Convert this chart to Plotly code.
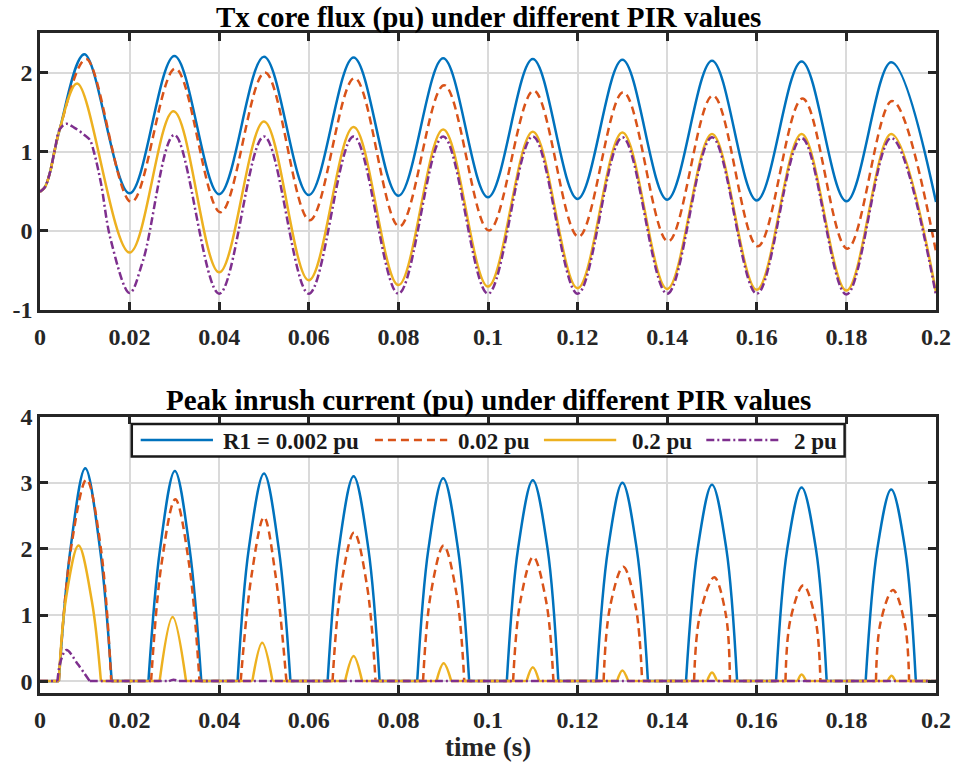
import plotly.graph_objects as go

# ---------------- Flux data (pu) : sampled extremes / key points ----------------
blue_flux_t = [0, 0.0011, 0.0022, 0.0033, 0.0044, 0.0099, 0.020, 0.030, 0.040, 0.050, 0.060,
               0.070, 0.080, 0.090, 0.100, 0.110, 0.120, 0.130, 0.140, 0.150, 0.160, 0.170,
               0.180, 0.190, 0.200]
blue_flux_v = [0.49, 0.55, 0.73, 1.02, 1.28, 2.23, 0.47, 2.21, 0.46, 2.20, 0.45, 2.19, 0.44,
               2.18, 0.42, 2.17, 0.40, 2.16, 0.39, 2.15, 0.38, 2.14, 0.37, 2.13, 0.36]

red_flux_t = [0, 0.0011, 0.0022, 0.0033, 0.0044, 0.0103, 0.0204, 0.0302, 0.0403, 0.0502, 0.0602,
              0.0702, 0.0802, 0.0902, 0.1002, 0.1102, 0.1202, 0.1302, 0.1402, 0.1502, 0.1602,
              0.1702, 0.1802, 0.1902, 0.200]
red_flux_v = [0.49, 0.55, 0.73, 1.02, 1.28, 2.17, 0.36, 2.05, 0.23, 2.00, 0.13, 1.93, 0.05,
              1.84, 0.00, 1.77, -0.08, 1.75, -0.14, 1.71, -0.20, 1.67, -0.23, 1.64, -0.27]

yellow_flux_t = [0, 0.0011, 0.0022, 0.0033, 0.0044, 0.0083, 0.020, 0.0298, 0.040, 0.050, 0.060,
                 0.070, 0.080, 0.090, 0.100, 0.110, 0.120, 0.130, 0.140, 0.150, 0.160, 0.170,
                 0.180, 0.190, 0.200]
yellow_flux_v = [0.49, 0.55, 0.73, 1.02, 1.28, 1.86, -0.28, 1.51, -0.53, 1.38, -0.63, 1.31, -0.69,
                 1.28, -0.71, 1.25, -0.73, 1.24, -0.74, 1.22, -0.75, 1.22, -0.76, 1.22, -0.78]

purple_flux_t = [0, 0.0011, 0.0022, 0.0033, 0.0044, 0.0058, 0.0077, 0.0099, 0.0111, 0.0121,
                 0.0136, 0.0158, 0.020, 0.023, 0.030, 0.040, 0.050, 0.060, 0.070, 0.080, 0.090,
                 0.100, 0.110, 0.120, 0.130, 0.140, 0.150, 0.160, 0.170, 0.180, 0.190, 0.200]
purple_flux_v = [0.49, 0.55, 0.73, 1.02, 1.28, 1.35, 1.30, 1.21, 1.15, 0.98, 0.60, -0.12, -0.79,
                 -0.38, 1.21, -0.80, 1.19, -0.80, 1.19, -0.80, 1.19, -0.80, 1.19, -0.80, 1.18,
                 -0.80, 1.18, -0.80, 1.17, -0.81, 1.17, -0.82]

# ---------------- Inrush current pulses (pu): points read along each pulse ----------------
blue_pulse_t = [[0.0042, 0.0068, 0.0101, 0.0134, 0.0160],
                [0.0242, 0.0268, 0.0301, 0.0334, 0.0360],
                [0.0441, 0.0466, 0.0500, 0.0533, 0.0559],
                [0.0642, 0.0667, 0.0700, 0.0733, 0.0758],
                [0.0842, 0.0867, 0.0900, 0.0933, 0.0958],
                [0.1042, 0.1067, 0.1100, 0.1133, 0.1157],
                [0.1242, 0.1268, 0.1300, 0.1332, 0.1357],
                [0.1442, 0.1468, 0.1500, 0.1532, 0.1556],
                [0.1643, 0.1668, 0.1700, 0.1732, 0.1756],
                [0.1843, 0.1869, 0.1900, 0.1931, 0.1955]]
blue_pulse_i = [[0, 2.0, 3.22, 2.0, 0], [0, 2.0, 3.18, 2.0, 0], [0, 2.0, 3.14, 2.0, 0],
                [0, 2.0, 3.10, 2.0, 0], [0, 2.0, 3.07, 2.0, 0], [0, 2.0, 3.04, 2.0, 0],
                [0, 2.0, 3.00, 2.0, 0], [0, 2.0, 2.97, 2.0, 0], [0, 2.0, 2.93, 2.0, 0],
                [0, 2.0, 2.90, 2.0, 0]]

red_pulse_t = [[0.0042, 0.0069, 0.0104, 0.0136, 0.0159],
               [0.0248, 0.0271, 0.0302, 0.0333, 0.0356],
               [0.0448, 0.0472, 0.0500, 0.0526, 0.0550],
               [0.0653, 0.0672, 0.0701, 0.0730, 0.0749],
               [0.0855, 0.0872, 0.0901, 0.0930, 0.0947],
               [0.1056, 0.1072, 0.1101, 0.1130, 0.1146],
               [0.1258, 0.1272, 0.1302, 0.1330, 0.1344],
               [0.1460, 0.1473, 0.1505, 0.1531, 0.1540],
               [0.1664, 0.1675, 0.1704, 0.1731, 0.1742],
               [0.1866, 0.1876, 0.1904, 0.1930, 0.1940]]
red_pulse_i = [[0, 2.0, 3.05, 2.0, 0], [0, 1.76, 2.75, 1.76, 0], [0, 1.59, 2.48, 1.59, 0],
               [0, 1.44, 2.25, 1.44, 0], [0, 1.31, 2.05, 1.31, 0], [0, 1.20, 1.88, 1.20, 0],
               [0, 1.11, 1.73, 1.11, 0], [0, 1.00, 1.57, 1.00, 0], [0, 0.93, 1.45, 0.93, 0],
               [0, 0.88, 1.38, 0.88, 0]]

yellow_pulse_t = [[0.0042, 0.0058, 0.0086, 0.0116, 0.0136],
                  [0.0267, 0.0296, 0.0326],
                  [0.0474, 0.0496, 0.0519],
                  [0.0681, 0.0700, 0.0719],
                  [0.0885, 0.0901, 0.0918],
                  [0.1086, 0.1100, 0.1114],
                  [0.1288, 0.1300, 0.1313],
                  [0.1489, 0.1500, 0.1511],
                  [0.1691, 0.1700, 0.1710],
                  [0.1892, 0.1901, 0.1909]]
yellow_pulse_i = [[0, 1.25, 2.05, 1.20, 0], [0, 0.97, 0], [0, 0.58, 0], [0, 0.38, 0],
                  [0, 0.27, 0], [0, 0.21, 0], [0, 0.16, 0], [0, 0.13, 0], [0, 0.10, 0],
                  [0, 0.08, 0]]

purple_pulse_t = [[0.0039, 0.0046, 0.0059, 0.0085, 0.0111],
                  [0.0288, 0.0298, 0.0310]]
purple_pulse_i = [[0, 0.30, 0.47, 0.25, 0], [0, 0.02, 0]]

names = ["R1 = 0.002 pu", "0.02 pu", "0.2 pu", "2 pu"]
colors = ["#0072BD", "#D95319", "#EDB120", "#7E2F8E"]
dashes = ["solid", "8px,5px", "solid", "8px,3px,2px,3px"]

x_ticks = [0, 0.02, 0.04, 0.06, 0.08, 0.1, 0.12, 0.14, 0.16, 0.18, 0.2]
x_ticktext = ["0", "0.02", "0.04", "0.06", "0.08", "0.1", "0.12", "0.14", "0.16", "0.18", "0.2"]
y1_ticks = [-1, 0, 1, 2]
y1_ticktext = ["-1", "0", "1", "2"]
y2_ticks = [0, 1, 2, 3, 4]
y2_ticktext = ["0", "1", "2", "3", "4"]


def pulse_series(pulse_t, pulse_i, t_end=0.2):
    """Zero-current stretches and the smooth pulses, as separate line pieces."""
    xs, ys = [], []
    prev = 0.0
    for pt, pi in zip(pulse_t, pulse_i):
        xs += [prev, pt[0], None] + list(pt) + [None]
        ys += [0.0, 0.0, None] + list(pi) + [None]
        prev = pt[-1]
    xs += [prev, t_end]
    ys += [0.0, 0.0]
    return xs, ys


flux = [(blue_flux_t, blue_flux_v), (red_flux_t, red_flux_v),
        (yellow_flux_t, yellow_flux_v), (purple_flux_t, purple_flux_v)]
curr = [pulse_series(blue_pulse_t, blue_pulse_i),
        pulse_series(red_pulse_t, red_pulse_i),
        pulse_series(yellow_pulse_t, yellow_pulse_i),
        pulse_series(purple_pulse_t, purple_pulse_i)]

FONT = "Liberation Serif"
W = 2.5
fig = go.Figure()
for i in range(4):
    fig.add_trace(go.Scatter(x=flux[i][0], y=flux[i][1], mode="lines", name=names[i],
                             line=dict(color=colors[i], width=W, dash=dashes[i], shape="spline"),
                             showlegend=False, xaxis="x", yaxis="y"))
for i in range(4):
    fig.add_trace(go.Scatter(x=curr[i][0], y=curr[i][1], mode="lines", name=names[i],
                             line=dict(color=colors[i], width=W, dash=dashes[i], shape="spline"),
                             connectgaps=False, showlegend=False, xaxis="x2", yaxis="y2"))

frame = "#262626"
axis_common = dict(showline=True, linecolor=frame, linewidth=2.5, mirror="allticks",
                   ticks="inside", ticklen=8, tickwidth=2.5, tickcolor=frame,
                   showgrid=True, gridcolor="#dadada", gridwidth=1.5, zeroline=False,
                   tickfont=dict(family=FONT, size=24, color="#262626", weight="bold"))

H0 = 693.0
PH = 660.0
L0 = 40.0
PW = 905.0


def px(xpix):
    return (xpix - L0) / PW


def py(ypix):
    return (H0 - ypix) / PH


# legend (framed box with line samples and labels)
leg_box = (132.7, 424.0, 852.7, 456.5)
leg_y = 440.0
leg_line_x = [141.7, 378.3, 549.0, 713.0]
leg_text_x = [222.7, 460.0, 635.7, 800.0]
LINE_LEN = 73.0

shapes = [dict(type="rect", xref="paper", yref="paper",
               x0=px(leg_box[0]), x1=px(leg_box[2]), y0=py(leg_box[3]), y1=py(leg_box[1]),
               fillcolor="white", line=dict(color="#1a1a1a", width=2.5), layer="above")]
annotations = []
for i in range(4):
    shapes.append(dict(type="line", xref="paper", yref="paper",
                       x0=px(leg_line_x[i]), x1=px(leg_line_x[i] + LINE_LEN),
                       y0=py(leg_y), y1=py(leg_y), layer="above",
                       line=dict(color=colors[i], width=W, dash=dashes[i])))
    annotations.append(dict(text=names[i], x=px(leg_text_x[i]), y=py(leg_y + 1),
                            xref="paper", yref="paper", showarrow=False,
                            xanchor="left", yanchor="middle",
                            font=dict(family=FONT, size=23, color="#1a1a1a", weight="bold")))

annotations += [
    dict(text="Tx core flux (pu) under different PIR values", x=0.5, y=py(17),
         xref="paper", yref="paper", showarrow=False, xanchor="center", yanchor="middle",
         font=dict(family=FONT, size=29, color="black", weight="bold")),
    dict(text="Peak inrush current (pu) under different PIR values", x=0.5, y=py(400),
         xref="paper", yref="paper", showarrow=False, xanchor="center", yanchor="middle",
         font=dict(family=FONT, size=29, color="black", weight="bold")),
    dict(text="time (s)", x=0.5, y=py(747), xref="paper", yref="paper",
         showarrow=False, xanchor="center", yanchor="middle",
         font=dict(family=FONT, size=27, color="#262626", weight="bold")),
]

fig.update_layout(
    width=963, height=763,
    margin=dict(l=40, r=18, t=33, b=70),
    paper_bgcolor="white", plot_bgcolor="white",
    showlegend=False,
    xaxis=dict(domain=[0, 1], range=[0, 0.2], tickvals=x_ticks, ticktext=x_ticktext,
               anchor="y", ticklabelstandoff=4, **axis_common),
    yaxis=dict(domain=[py(309.5), 1], range=[-1, 2.5], tickvals=y1_ticks,
               ticktext=y1_ticktext, anchor="x", **axis_common),
    xaxis2=dict(domain=[0, 1], range=[0, 0.2], tickvals=x_ticks, ticktext=x_ticktext,
                anchor="y2", ticklabelstandoff=3, **axis_common),
    yaxis2=dict(domain=[0, py(416.7)], range=[-0.18, 4], tickvals=y2_ticks,
                ticktext=y2_ticktext, anchor="x2", **axis_common),
    shapes=shapes,
    annotations=annotations,
)

fig.write_html("out.html")
